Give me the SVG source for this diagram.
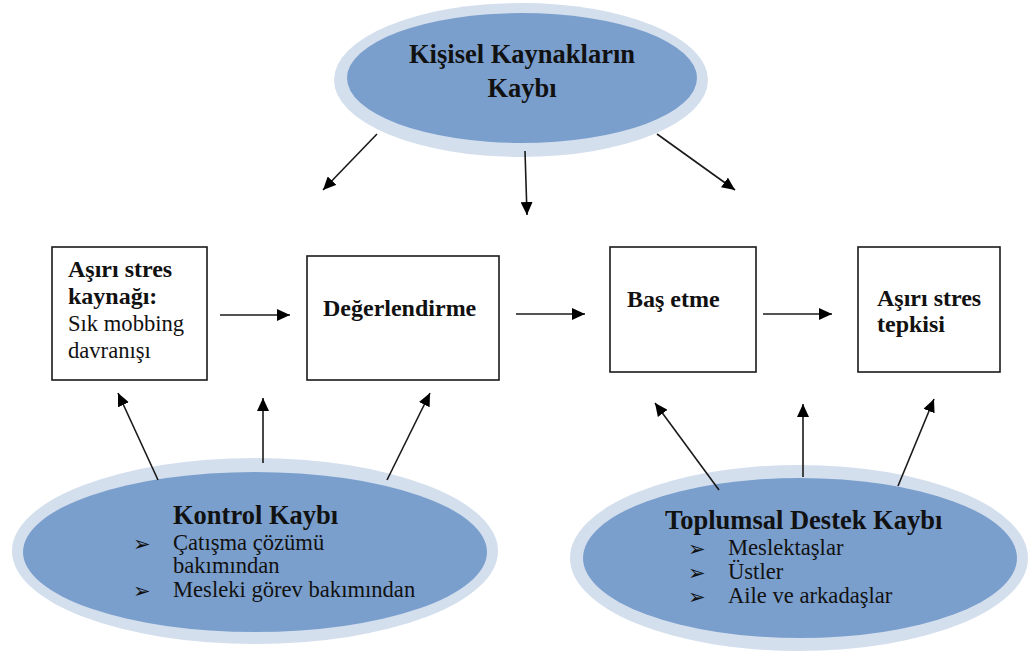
<svg xmlns="http://www.w3.org/2000/svg" width="1028" height="653" viewBox="0 0 1028 653">
  <style>
    .ring { fill: #d4dfee; }
    .core { fill: #7b9fcd; }
    .box { fill: #ffffff; stroke: #1a1a1a; stroke-width: 1.6; }
    .b { font-family: 'Liberation Serif', 'DejaVu Serif', 'Times New Roman', serif; font-weight: bold; fill: #111; }
    .r { font-family: 'Liberation Serif', 'DejaVu Serif', 'Times New Roman', serif; fill: #111; font-size: 22.6px; }
    .h { font-size: 26.5px; }
    .bx { font-size: 24px; }
    .bul { font-family: 'DejaVu Sans', sans-serif; font-size: 21px; fill: #111; }
    .con { stroke: #1a1a1a; stroke-width: 1.6; fill: none; marker-end: url(#ah); }
  </style>
  <defs>
    <marker id="ah" markerUnits="userSpaceOnUse" markerWidth="14" markerHeight="12" refX="13" refY="6" orient="auto">
      <path d="M0,0 L13,6 L0,12 Z" fill="#000"/>
    </marker>
  </defs>
  <rect width="1028" height="653" fill="#ffffff"/>

  <g id="kisisel">
    <ellipse class="ring" cx="521" cy="80" rx="187" ry="77"/>
    <ellipse class="core" cx="522" cy="78" rx="175" ry="65"/>
    <text class="b h" x="522" y="63" text-anchor="middle">Kişisel Kaynakların</text>
    <text class="b h" x="522" y="97" text-anchor="middle">Kaybı</text>
  </g>

  <g id="kaynak">
    <rect class="box" x="52" y="247" width="155" height="133"/>
    <text class="b bx" x="68" y="277">Aşırı stres</text>
    <text class="b bx" x="68" y="304">kaynağı:</text>
    <text class="r" x="68" y="331">Sık mobbing</text>
    <text class="r" x="68" y="358">davranışı</text>
  </g>

  <g id="degerlendirme">
    <rect class="box" x="307" y="256" width="192" height="124"/>
    <text class="b bx" x="323" y="316">Değerlendirme</text>
  </g>

  <g id="basetme">
    <rect class="box" x="610" y="247" width="146" height="125"/>
    <text class="b bx" x="627" y="307">Baş etme</text>
  </g>

  <g id="tepki">
    <rect class="box" x="858" y="247" width="142" height="125"/>
    <text class="b bx" x="877" y="306">Aşırı stres</text>
    <text class="b bx" x="877" y="332">tepkisi</text>
  </g>

  <g id="kontrol">
    <ellipse class="ring" cx="255" cy="551" rx="243" ry="93"/>
    <ellipse class="core" cx="255" cy="552" rx="232" ry="80"/>
    <text class="b h" x="173" y="524">Kontrol Kaybı</text>
    <text class="bul" x="133" y="551">➢</text>
    <text class="r" x="173" y="550">Çatışma çözümü</text>
    <text class="r" x="173" y="573">bakımından</text>
    <text class="bul" x="133" y="598">➢</text>
    <text class="r" x="173" y="597">Mesleki görev bakımından</text>
  </g>

  <g id="toplumsal">
    <ellipse class="ring" cx="799" cy="558" rx="229" ry="93"/>
    <ellipse class="core" cx="800" cy="558" rx="217" ry="80"/>
    <text class="b h" x="665" y="529">Toplumsal Destek Kaybı</text>
    <text class="bul" x="688" y="556">➢</text>
    <text class="r" x="728" y="555">Meslektaşlar</text>
    <text class="bul" x="688" y="580">➢</text>
    <text class="r" x="728" y="579">Üstler</text>
    <text class="bul" x="688" y="604">➢</text>
    <text class="r" x="728" y="603">Aile ve arkadaşlar</text>
  </g>

  <g id="connectors">
    <line class="con" x1="377" y1="134" x2="323" y2="190"/>
    <line class="con" x1="525" y1="151" x2="527" y2="215"/>
    <line class="con" x1="657" y1="134" x2="735" y2="190"/>
    <line class="con" x1="220" y1="315" x2="290" y2="315"/>
    <line class="con" x1="516" y1="314" x2="585" y2="314"/>
    <line class="con" x1="763" y1="314" x2="832" y2="314"/>
    <line class="con" x1="158" y1="480" x2="118" y2="393"/>
    <line class="con" x1="263" y1="463" x2="263" y2="398"/>
    <line class="con" x1="387" y1="480" x2="430" y2="393"/>
    <line class="con" x1="719" y1="490" x2="655" y2="403"/>
    <line class="con" x1="803" y1="477" x2="803" y2="404"/>
    <line class="con" x1="898" y1="486" x2="934" y2="399"/>
  </g>
</svg>
